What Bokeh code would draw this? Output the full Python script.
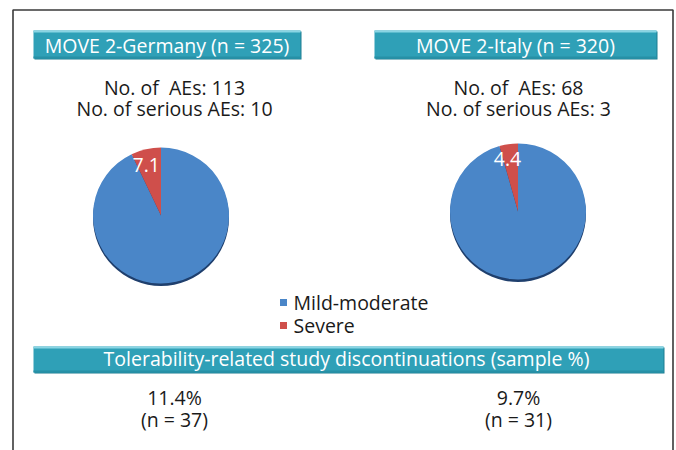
import math
from bokeh.plotting import figure
from bokeh.models import Range1d
from bokeh.core.properties import value
from bokeh.embed import file_html
from bokeh.resources import INLINE

# ---- data ----
studies = ["MOVE 2-Germany (n = 325)", "MOVE 2-Italy (n = 320)"]
n_aes = [113, 68]
n_serious_aes = [10, 3]
severe_pct = [7.1, 4.4]
mild_pct = [92.9, 95.6]
legend_labels = ["Mild-moderate", "Severe"]
band_title = "Tolerability-related study discontinuations (sample %)"
disc_pct = [11.4, 9.7]
disc_n = [37, 31]

# ---- style ----
FONT = value("Open Sans")
FS = "19.5px"
BLUE = "#4a86c8"
RED = "#cf4f4b"
SHADOW = "#1f3f6d"
TEAL = "#2fa0b7"
TEAL_HI = "#8ad5e4"
TEAL_LO = "#1d7c90"

W, H = 676, 450
p = figure(width=W, height=H, x_range=Range1d(0, W), y_range=Range1d(0, H),
           output_backend="svg", toolbar_location=None, min_border=0)
p.axis.visible = False
p.grid.visible = False
p.outline_line_color = None
p.background_fill_color = "white"
p.border_fill_color = "white"


def Y(iy):
    return H - iy


def label(x, iy, s, color="#1a1a1a", align="center"):
    p.text(x=[x], y=[Y(iy)], text=[s], text_font=FONT, text_font_size=FS,
           text_color=color, text_align=align, text_baseline="alphabetic")


# outer border
p.multi_line(xs=[[12.5, 12.5, 672.5, 672.5]], ys=[[Y(470), Y(9.5), Y(9.5), Y(470)]],
             line_color="#3a3a3a", line_width=1.6)

# header boxes
col_x = [174, 518]
box_l = [33, 374]
box_r = [300, 656]


def teal_box(l, r, t, b):
    p.quad(left=[l + 1], right=[r + 1], top=[Y(t + 1)], bottom=[Y(b + 1)],
           fill_color=TEAL_LO, line_color=None)
    p.quad(left=[l], right=[r], top=[Y(t)], bottom=[Y(b)],
           fill_color=TEAL, line_color=None)
    p.quad(left=[l], right=[r], top=[Y(t)], bottom=[Y(t + 2)],
           fill_color=TEAL_HI, line_color=None)
    p.quad(left=[l], right=[r], top=[Y(b - 2)], bottom=[Y(b)],
           fill_color="#2790a6", line_color=None)


for i in range(2):
    teal_box(box_l[i], box_r[i], 30, 58)
    label((box_l[i] + box_r[i]) / 2, 45, studies[i], color="white")
    label(col_x[i], 87, "No. of\u00a0 AEs: %d" % n_aes[i])
    label(col_x[i], 108, "No. of serious AEs: %d" % n_serious_aes[i])

# pies
pie_cx = [160.5, 517.5]
pie_cy = [215, 211]
R = 68
for i in range(2):
    cx, cy = pie_cx[i], Y(pie_cy[i])
    start = math.pi / 2
    sev_end = start + 2 * math.pi * severe_pct[i] / 100.0
    mild_end = sev_end + 2 * math.pi * mild_pct[i] / 100.0
    p.wedge(x=[cx], y=[cy - 2.5], radius=R, start_angle=0, end_angle=2 * math.pi,
            fill_color=SHADOW, line_color=None)
    p.wedge(x=[cx], y=[cy], radius=R, start_angle=sev_end, end_angle=mild_end,
            fill_color=BLUE, line_color=None)
    p.wedge(x=[cx], y=[cy], radius=R, start_angle=start, end_angle=sev_end,
            fill_color=RED, line_color=None)
    mid = (start + sev_end) / 2 + 0.06
    lr = 0.78 * R
    p.text(x=[cx + lr * math.cos(mid)], y=[cy + lr * math.sin(mid)],
           text=["%.1f" % severe_pct[i]], text_font=FONT, text_font_size=FS,
           text_color="white", text_align="center", text_baseline="middle")

# legend
leg_colors = [BLUE, RED]
leg_sq_y = [302, 325]
for i in range(2):
    p.rect(x=[283], y=[Y(leg_sq_y[i])], width=7, height=7,
           fill_color=leg_colors[i], line_color=None)
    label(293, leg_sq_y[i], legend_labels[i], align="left")

# discontinuation band
teal_box(33, 663, 346, 372)
label(346, 358, band_title, color="white")

for i in range(2):
    label(col_x[i], 397, "%.1f%%" % disc_pct[i])
    label(col_x[i], 419, "(n = %d)" % disc_n[i])

open("out.html", "w").write(file_html(p, INLINE))
